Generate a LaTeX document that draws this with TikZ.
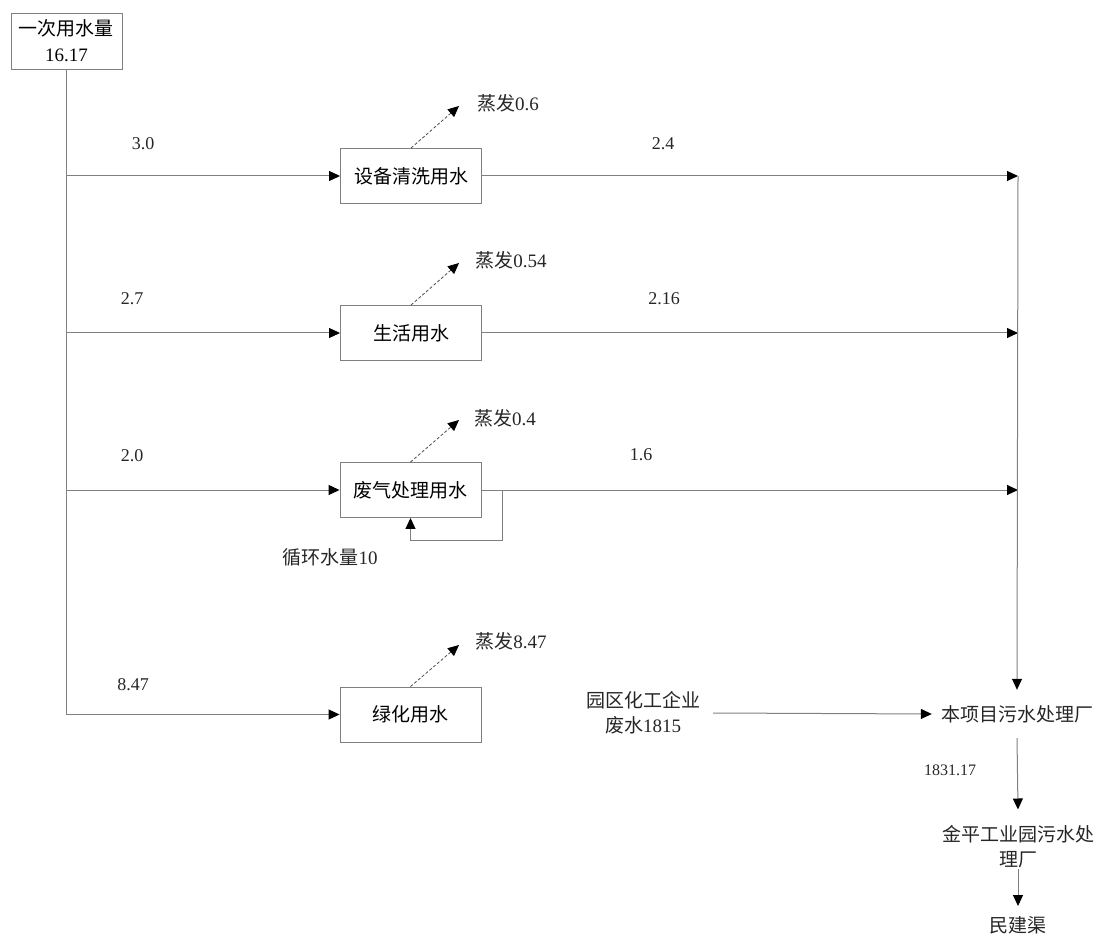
\documentclass[tikz,border=0pt]{standalone}
\usepackage{fontspec}
\setmainfont{Liberation Serif}
\newfontfamily\cjk{Noto Sans CJK SC}
\usetikzlibrary{arrows.meta}
\begin{document}
\begin{tikzpicture}[x=1pt,y=-1pt,
  box/.style={draw=black!50, line width=0.9pt, minimum width=141pt, minimum height=55pt, inner sep=0pt, font=\fontsize{19}{25}\selectfont\cjk},
  lbl/.style={inner sep=0pt, font=\fontsize{18}{24}\selectfont, text=black!85},
  clbl/.style={inner sep=0pt, align=center, font=\fontsize{19}{25}\selectfont, text=black!85},
  flow/.style={draw=black!50, line width=1pt, -{Triangle[length=11pt,width=10pt,color=black]}},
  plain/.style={draw=black!50, line width=1pt},
  evap/.style={draw=black!70, line width=0.8pt, dash pattern=on 3pt off 2pt, -{Triangle[length=11pt,width=10pt,color=black]}}]
\useasboundingbox (0,0) rectangle (1098,941);

% source
\node[box, minimum width=111pt, minimum height=56pt, align=center, font=\fontsize{19}{26}\selectfont] (src) at (66.5,41) {{\cjk 一次用水量}\\16.17};

% process boxes
\node[box] (b1) at (411,176) {设备清洗用水};
\node[box] (b2) at (411,333) {生活用水};
\node[box] (b3) at (410.5,490) {废气处理用水};
\node[box] (b4) at (410.5,714.5) {绿化用水};

% junctions on main line
\coordinate (j1) at (66.5,176);
\coordinate (j2) at (66.5,333);
\coordinate (j3) at (66.5,490);
\coordinate (j4) at (66.5,714.5);
\draw[plain] (src.south) -- (j4);
\draw[flow] (j1) -- (b1.west);
\draw[flow] (j2) -- (b2.west);
\draw[flow] (j3) -- (b3.west);
\draw[flow] (j4) -- (b4.west);

\node[lbl] (l1) at (143,144) {3.0};
\node[lbl] (l2) at (132,299) {2.7};
\node[lbl] (l3) at (132,456) {2.0};
\node[lbl] (l4) at (133,685) {8.47};

% evaporation
\coordinate (t1) at (459,106);
\coordinate (t2) at (459,263);
\coordinate (t3) at (459,420);
\coordinate (t4) at (459,645);
\draw[evap] (b1.north) -- (t1);
\draw[evap] (b2.north) -- (t2);
\draw[evap] (b3.north) -- (t3);
\draw[evap] (b4.north) -- (t4);
\node[lbl, font=\fontsize{19}{24}\selectfont] (e1) at (508,103) {{\cjk 蒸发}0.6};
\node[lbl, font=\fontsize{19}{24}\selectfont] (e2) at (511,260) {{\cjk 蒸发}0.54};
\node[lbl, font=\fontsize{19}{24}\selectfont] (e3) at (505,418) {{\cjk 蒸发}0.4};
\node[lbl, font=\fontsize{19}{24}\selectfont] (e4) at (511,641) {{\cjk 蒸发}8.47};

% outputs to right collector
\coordinate (r1) at (1018,176);
\coordinate (r2) at (1018,333);
\coordinate (r3) at (1018,490);
\draw[flow] (b1.east) -- (r1);
\draw[flow] (b2.east) -- (r2);
\draw[flow] (b3.east) -- (r3);
\node[lbl] (o1) at (663,144) {2.4};
\node[lbl] (o2) at (664,299) {2.16};
\node[lbl] (o3) at (641,455) {1.6};

% recirculation loop
\coordinate (lp) at (502,540);
\draw[flow] (b3.east) -| (lp) -| (b3.south);
\node[lbl, font=\fontsize{19}{24}\selectfont] (cyc) at (330,557) {{\cjk 循环水量}10};

% treatment chain
\node[clbl, font=\fontsize{19}{25}\selectfont\cjk, minimum height=48pt] (wwtp) at (1017,714) {本项目污水处理厂};
\draw[flow] (r1) -- (wwtp.north);
\node[clbl, inner xsep=13pt] (park) at (643,713) {{\cjk 园区化工企业}\\{\cjk 废水}1815};
\draw[flow] (park.east) -- ([xshift=-9pt]wwtp.west);
\node[lbl, font=\fontsize{16}{20}\selectfont] (tot) at (950,770) {1831.17};
\node[clbl, font=\fontsize{19}{25}\selectfont\cjk] (jp) at (1018,847) {金平工业园污水处\\理厂};
\draw[flow] (wwtp.south) -- ([yshift=16pt]jp.north);
\node[clbl, font=\fontsize{19}{25}\selectfont\cjk] (mjq) at (1018,925) {民建渠};
\draw[flow] (jp.south) -- ([yshift=10pt]mjq.north);
\end{tikzpicture}
\end{document}
